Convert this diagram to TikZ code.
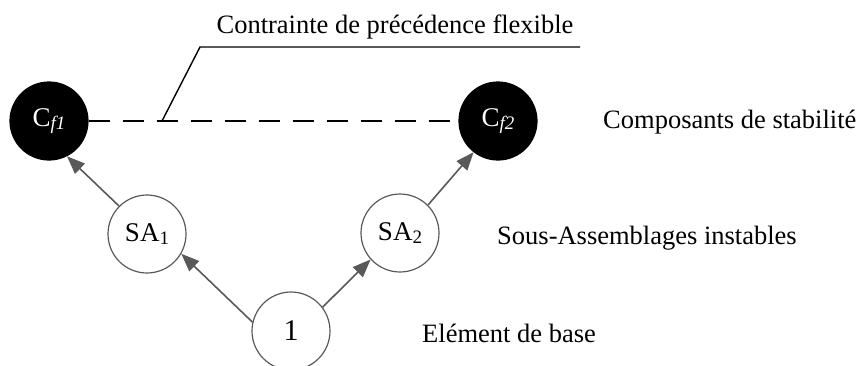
\documentclass[tikz,border=0pt]{standalone}
\usepackage{fontspec}
\setmainfont{Liberation Serif}
\usetikzlibrary{arrows.meta}
\definecolor{edgegray}{HTML}{595959}
\newcommand{\mysub}[1]{\raisebox{-0.25ex}{\fontsize{19}{20}\selectfont #1}}
\begin{document}
\begin{tikzpicture}[x=1pt,y=-1pt,
  circ/.style={circle,draw=edgegray,line width=1.2pt,minimum size=78pt,inner sep=0pt,font=\fontsize{27}{30}\selectfont},
  blk/.style={circ,draw=black,fill=black,text=white},
  arr/.style={draw=edgegray,line width=1.6pt,-{Triangle[length=18pt,width=14pt]}},
  lbl/.style={anchor=west,inner sep=0pt,font=\fontsize{26.5}{29}\selectfont},
  dashline/.style={line width=2.6pt,dash pattern=on 21pt off 13pt},
  leader/.style={line width=1.4pt}]
\useasboundingbox (0,0) rectangle (856,365);
\clip (0,0) rectangle (856,365);
\node[blk] (cf1) at (49,121) {C\mysub{\textit{f1}}};
\node[blk] (cf2) at (498,121) {C\mysub{\textit{f2}}};
\node[circ] (sa1) at (147,234) {SA\mysub{1}};
\node[circ] (sa2) at (400,233) {SA\mysub{2}};
\node[circ,font=\fontsize{30}{32}\selectfont] (n1) at (291,331) {1};
\draw[dashline] (cf1.east) -- (cf2.west);
\draw[arr] (sa1.135) -- (cf1.-63);
\draw[arr] (sa2.45) -- (cf2.232);
\draw[arr] (n1.167) -- (sa1.-30);
\draw[arr] (n1.37) -- (sa2.222);
\coordinate (lp1) at (162,121);
\coordinate (lp2) at (200,47);
\coordinate (lp3) at (580,47);
\draw[leader] (lp1) -- (lp2) -- (lp3);
\node[font=\fontsize{26.5}{29}\selectfont,inner sep=0pt] (title) at (395,27) {Contrainte de précédence flexible};
\node[lbl] (l1) at (603,122) {Composants de stabilité};
\node[lbl] (l2) at (497,238) {Sous-Assemblages instables};
\node[lbl] (l3) at (422,333) {Elément de base};
\end{tikzpicture}
\end{document}
